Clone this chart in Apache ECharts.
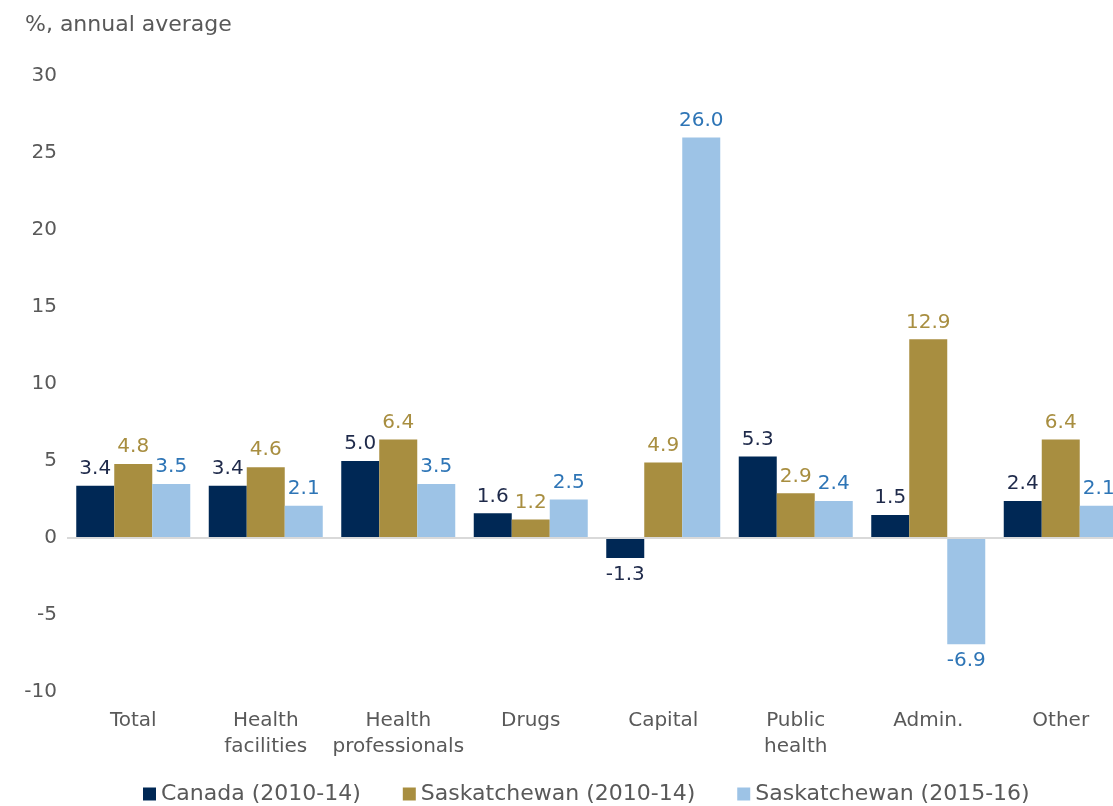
<!DOCTYPE html>
<html>
<head>
<meta charset="utf-8">
<script src="https://cdn.jsdelivr.net/npm/echarts@6/dist/echarts.min.js"></script>
<style>html,body{margin:0;padding:0;background:#fff;}#c{width:1113px;height:806px;}</style>
</head>
<body>
<div id="c"></div>
<script>
const categories = ['Total', 'Health\nfacilities', 'Health\nprofessionals', 'Drugs', 'Capital', 'Public\nhealth', 'Admin.', 'Other'];
const seriesNames = ['Canada (2010-14)', 'Saskatchewan (2010-14)', 'Saskatchewan (2015-16)'];
const canada = [3.4, 3.4, 5.0, 1.6, -1.3, 5.3, 1.5, 2.4];
const sask1014 = [4.8, 4.6, 6.4, 1.2, 4.9, 2.9, 12.9, 6.4];
const sask1516 = [3.5, 2.1, 3.5, 2.5, 26.0, 2.4, -6.9, 2.1];
const yTicks = [-10, -5, 0, 5, 10, 15, 20, 25, 30];

const FONT = 'DejaVu Sans';
const GRAY = '#595959';
const barColors = ['#002855', '#a88e40', '#9dc3e6'];
const labelColors = ['#1f2a4a', '#a88e40', '#2e75b6'];

function mk(name, vals, i) {
  return {
    name: name,
    type: 'bar',
    barWidth: 38,
    barGap: '0%',
    itemStyle: { color: barColors[i] },
    data: vals.map(v => ({
      value: v,
      label: { position: v < 0 ? 'bottom' : 'top' }
    })),
    label: {
      show: true,
      distance: 7,
      formatter: p => p.value.toFixed(1),
      color: labelColors[i],
      fontFamily: FONT,
      fontSize: 20
    }
  };
}

const series = [mk(seriesNames[0], canada, 0), mk(seriesNames[1], sask1014, 1), mk(seriesNames[2], sask1516, 2)];
series[0].markLine = {
  silent: true,
  symbol: 'none',
  label: { show: false },
  lineStyle: { color: '#d9d9d9', width: 2, type: 'solid' },
  data: [{ yAxis: 0 }]
};

const chart = echarts.init(document.getElementById('c'));
chart.setOption({
  animation: false,
  title: {
    text: '%, annual average',
    left: 20, top: 9,
    textStyle: { fontFamily: FONT, fontSize: 22, fontWeight: 'normal', color: GRAY }
  },
  legend: {
    bottom: -4,
    left: 138,
    itemWidth: 13, itemHeight: 13, itemGap: 42,
    icon: 'rect',
    textStyle: { fontFamily: FONT, fontSize: 22, color: GRAY }
  },
  grid: { left: 67, top: 76, width: 1060, height: 616, outerBoundsMode: 'none', containLabel: false },
  xAxis: {
    type: 'category',
    data: categories,
    axisLine: { show: false },
    axisTick: { show: false },
    axisLabel: { interval: 0, fontFamily: FONT, fontSize: 20, color: GRAY, margin: 16, lineHeight: 26 }
  },
  yAxis: {
    type: 'value',
    min: yTicks[0], max: yTicks[yTicks.length - 1], interval: 5,
    splitLine: { show: false },
    axisLine: { show: false },
    axisTick: { show: false },
    axisLabel: { fontFamily: FONT, fontSize: 20, color: GRAY, margin: 10 }
  },
  series: series
});
</script>
</body>
</html>
